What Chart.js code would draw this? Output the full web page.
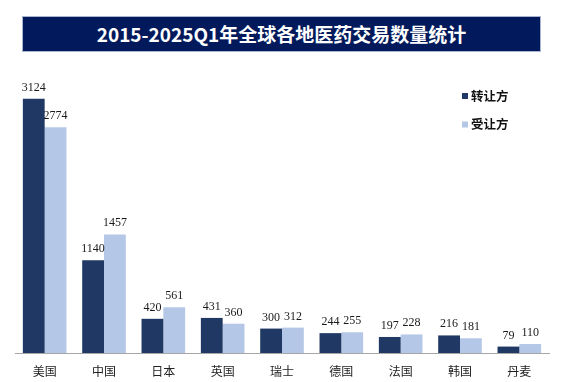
<!DOCTYPE html>
<html>
<head>
<meta charset="utf-8">
<script src="https://cdn.jsdelivr.net/npm/chart.js@4"></script>
<style>
  html, body { margin: 0; padding: 0; background: #fff; }
  #wrap { position: relative; width: 568px; height: 382px; }
  #title {
    position: absolute; left: 22px; top: 16px; width: 517px; height: 34px;
    background: #021a5c; border: 1px solid #a9b4cf;
    color: #fff; font-family: "Noto Sans CJK SC", "Noto Sans", sans-serif;
    font-weight: bold; font-size: 19px; line-height: 34px; text-align: center;
  }
  canvas { position: absolute; left: 0; top: 0; }
</style>
</head>
<body>
<div id="wrap">
  <canvas id="c" width="568" height="382"></canvas>
  <div id="title">2015-2025Q1年全球各地医药交易数量统计</div>
</div>
<script>
const categories = ["美国", "中国", "日本", "英国", "瑞士", "德国", "法国", "韩国", "丹麦"];
const transferor = [3124, 1140, 420, 431, 300, 244, 197, 216, 79];
const transferee = [2774, 1457, 561, 360, 312, 255, 228, 181, 110];
const seriesNames = ["转让方", "受让方"];
const seriesColors = ["#203864", "#b4c7e7"];

const valueLabels = {
  id: 'valueLabels',
  afterDatasetsDraw(chart) {
    const ctx = chart.ctx;
    ctx.save();
    ctx.font = '12px "Liberation Serif", "Times New Roman", serif';
    ctx.fillStyle = '#1a1a1a';
    ctx.textAlign = 'center';
    ctx.textBaseline = 'alphabetic';
    chart.data.datasets.forEach((ds, i) => {
      chart.getDatasetMeta(i).data.forEach((bar, j) => {
        ctx.fillText(String(ds.data[j]), bar.x, bar.y - 8);
      });
    });
    ctx.restore();
  }
};

const sideLegend = {
  id: 'sideLegend',
  afterDraw(chart) {
    const ctx = chart.ctx;
    ctx.save();
    ctx.font = 'bold 12.5px "Noto Sans CJK SC", sans-serif';
    ctx.textBaseline = 'middle';
    ctx.textAlign = 'left';
    chart.data.datasets.forEach((ds, i) => {
      const y = 96 + i * 28.5;
      ctx.fillStyle = ds.backgroundColor;
      ctx.fillRect(462, y - 3, 6, 6);
      ctx.fillStyle = '#111';
      ctx.fillText(ds.label, 471, y);
    });
    ctx.restore();
  }
};

new Chart(document.getElementById('c'), {
  type: 'bar',
  data: {
    labels: categories,
    datasets: [
      { label: seriesNames[0], data: transferor, backgroundColor: seriesColors[0] },
      { label: seriesNames[1], data: transferee, backgroundColor: seriesColors[1] }
    ]
  },
  options: {
    responsive: false,
    animation: false,
    devicePixelRatio: 1,
    layout: { padding: { left: 15, right: 19, top: 60, bottom: 0 } },
    datasets: { bar: { categoryPercentage: 0.735, barPercentage: 1 } },
    plugins: { legend: { display: false }, title: { display: false }, tooltip: { enabled: false } },
    scales: {
      x: {
        afterFit(scale) { scale.height = 29; },
        grid: { display: false, drawTicks: false },
        border: { display: true, color: '#a6a6a6', width: 1 },
        ticks: {
          padding: 11,
          color: '#222',
          font: { family: '"Noto Sans CJK SC", sans-serif', size: 12 }
        }
      },
      y: { display: false, min: 0, max: 3600 }
    }
  },
  plugins: [valueLabels, sideLegend]
});
</script>
</body>
</html>
